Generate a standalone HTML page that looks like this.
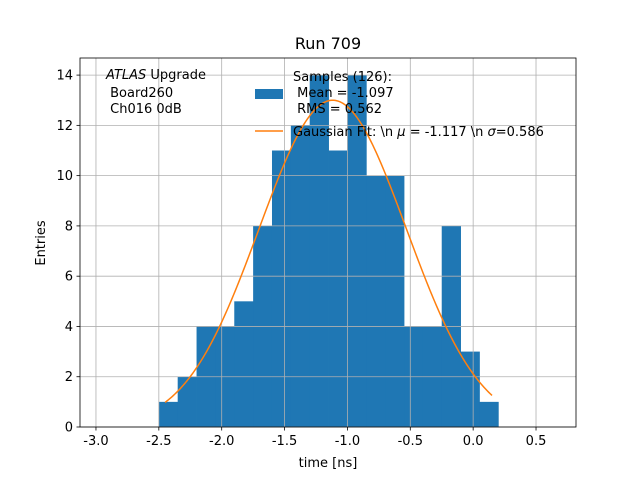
<!DOCTYPE html>
<html><head><meta charset="utf-8"><style>
body{margin:0;background:#fff}
svg text{font-family:"DejaVu Sans","Liberation Sans",sans-serif;fill:#000;white-space:pre}
</style></head><body>
<svg id="c" width="640" height="480" xmlns="http://www.w3.org/2000/svg"></svg>
<script>
const binEdges=[-2.5,-2.35,-2.2,-2.05,-1.9,-1.75,-1.6,-1.45,-1.3,-1.15,-1.0,-0.85,-0.7,-0.55,-0.4,-0.25,-0.1,0.05,0.2];
const counts=[1,2,4,4,5,8,11,12,14,11,14,10,10,4,4,8,3,1];
const fitAmp=13.0, fitMu=-1.117, fitSigma=0.586, fitRange=[-2.45,0.15];
const xTicks=[-3.0,-2.5,-2.0,-1.5,-1.0,-0.5,0.0,0.5];
const yTicks=[0,2,4,6,8,10,12,14];
const L=80,R=576,T=58,B=427,xmin=-3.127,xmax=0.818,ymin=0,ymax=14.68;
const X=v=>L+(v-xmin)/(xmax-xmin)*(R-L);
const Y=v=>B-(v-ymin)/(ymax-ymin)*(B-T);
const svg=document.getElementById('c');const NS='http://www.w3.org/2000/svg';
function mk(t,a,p){const e=document.createElementNS(NS,t);for(const k in a)e.setAttribute(k,a[k]);(p||svg).appendChild(e);return e;}
const bars=mk('g',{});


counts.forEach((c,i)=>{const r=mk('rect',{x:X(binEdges[i]),y:Y(c),width:X(binEdges[i+1])-X(binEdges[i])+0.4,height:Y(0)-Y(c),fill:'#1f77b4'},bars);

});
const grid=mk('g',{});


xTicks.forEach(t=>{mk('line',{x1:X(t),x2:X(t),y1:T,y2:B,stroke:'#b0b0b0','stroke-width':0.8},grid);
mk('line',{x1:X(t),x2:X(t),y1:B,y2:B+3.5,stroke:'#000','stroke-width':0.8});
const tx=mk('text',{x:X(t),y:B+18,'text-anchor':'middle','font-size':13});tx.textContent=t.toFixed(1);

});
yTicks.forEach(t=>{mk('line',{x1:L,x2:R,y1:Y(t),y2:Y(t),stroke:'#b0b0b0','stroke-width':0.8},grid);
mk('line',{x1:L-3.5,x2:L,y1:Y(t),y2:Y(t),stroke:'#000','stroke-width':0.8});
const tx=mk('text',{x:L-7,y:Y(t)+4.5,'text-anchor':'end','font-size':13});tx.textContent=t;

});
let d='';for(let i=0;i<=200;i++){const x=fitRange[0]+(fitRange[1]-fitRange[0])*i/200;const y=fitAmp*Math.exp(-0.5*((x-fitMu)/fitSigma)**2);d+=(i?'L':'M')+X(x).toFixed(2)+','+Y(y).toFixed(2);}
const fl=mk('path',{d:d,fill:'none',stroke:'#ff7f0e','stroke-width':1.5});


const ax=mk('rect',{x:L,y:T,width:R-L,height:B-T,fill:'none',stroke:'#000','stroke-width':0.8});


</script>
<svg width="640" height="480" style="position:absolute;left:0;top:0">
<text x="328" y="49" text-anchor="middle" font-size="16">Run 709</text>
<text x="328" y="467" text-anchor="middle" font-size="13">time [ns]</text>
<text transform="translate(45,243) rotate(-90)" text-anchor="middle" font-size="13">Entries</text>
<g font-size="13">
<text x="106" y="79"><tspan font-style="italic">ATLAS</tspan> Upgrade</text>
<text x="106" y="97"> Board260</text>
<text x="106" y="113"> Ch016 0dB</text></g>
<g font-size="13">
<rect x="255" y="89" width="28" height="10" fill="#1f77b4"/>
<text x="293" y="81">Samples (126):</text>
<text x="293" y="97"> Mean = -1.097</text>
<text x="293" y="113"> RMS = 0.562</text>
<line x1="255" x2="283" y1="131" y2="131" stroke="#ff7f0e" stroke-width="1.5"/>
<text x="293" y="136">Gaussian Fit: \n <tspan font-style="italic">μ</tspan> = -1.117 \n <tspan font-style="italic">σ</tspan>=0.586</text></g>
</svg>
</body></html>
